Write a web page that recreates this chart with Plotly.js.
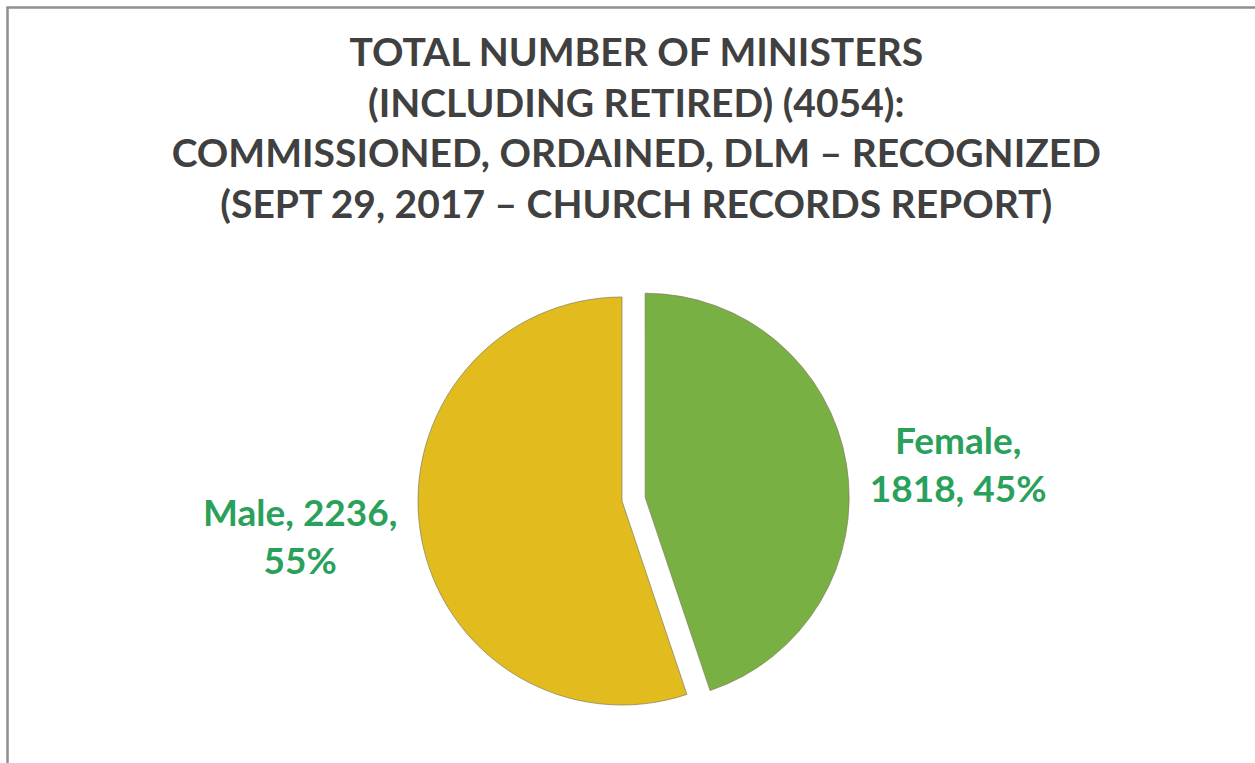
<!DOCTYPE html>
<html>
<head>
<meta charset="utf-8">
<script src="https://cdn.plot.ly/plotly-3.0.1.min.js"></script>
<style>html,body{margin:0;padding:0;background:#fff;}#chart{width:1255px;height:763px;}</style>
</head>
<body>
<div id="chart"></div>
<script>
const categories = ["Female", "Male"];
const counts = [1818, 2236];
const percents = ["45%", "55%"];
const sliceColors = ["#78b043", "#e2bc1f"];
const pulls = [0.115, 0];
const labelTexts = ["Female,<br>1818, 45%", "Male, 2236,<br>55%"];
const titleText = "TOTAL NUMBER OF MINISTERS<br>(INCLUDING RETIRED) (4054):<br>COMMISSIONED, ORDAINED, DLM – RECOGNIZED<br>(SEPT 29, 2017 – CHURCH RECORDS REPORT)";

const W = 1255, H = 763;
const cx = 622, cy = 501, r = 204;
const half = r * (1 + Math.max(...pulls));

const trace = {
  type: "pie",
  labels: categories,
  values: counts,
  customdata: labelTexts,
  texttemplate: "%{customdata}",
  textposition: "outside",
  textfont: {family: "Lato, 'Open Sans', sans-serif", size: 37, color: "#2aa15a", weight: "bold"},
  sort: false,
  direction: "clockwise",
  rotation: 0,
  pull: pulls,
  marker: {colors: sliceColors, line: {color: "rgba(130,125,90,0.7)", width: 1}},
  showlegend: false,
  hoverinfo: "label+value+percent",
  domain: {
    x: [(cx - half) / W, (cx + half) / W],
    y: [(H - cy - half) / H, (H - cy + half) / H]
  }
};

const layout = {
  width: W, height: H,
  margin: {l: 0, r: 0, t: 0, b: 0},
  paper_bgcolor: "#ffffff",
  showlegend: false,
  title: {
    text: titleText,
    font: {family: "Lato, 'Open Sans', sans-serif", size: 39, color: "#404040", weight: "bold"},
    x: 0.507, xanchor: "center",
    y: 1 - 66 / H, yref: "container", yanchor: "top"
  },
  shapes: [{
    type: "rect", xref: "paper", yref: "paper",
    x0: 7.5 / W, x1: 1.05, y0: -0.05, y1: 1 - 7.5 / H,
    line: {color: "#8f8f8f", width: 2.5}, fillcolor: "rgba(0,0,0,0)"
  }]
};

Plotly.newPlot("chart", [trace], layout, {displayModeBar: false, staticPlot: true});
</script>
</body>
</html>
